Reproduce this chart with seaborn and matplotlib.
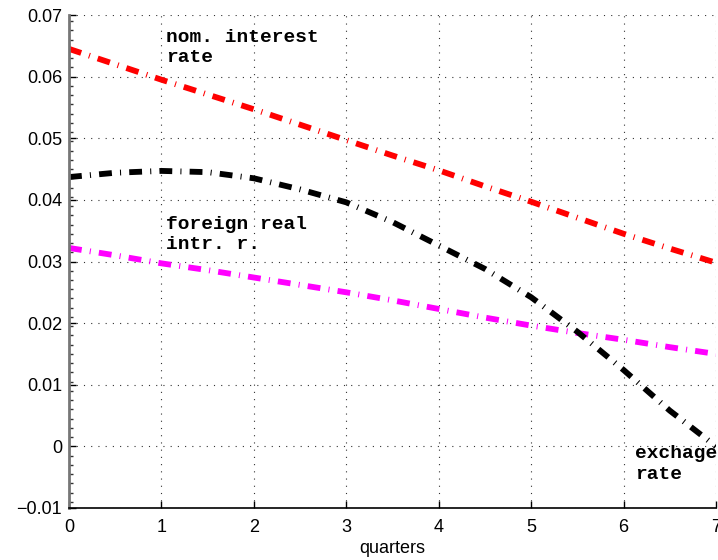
import numpy as np
import pandas as pd
import matplotlib
matplotlib.use("Agg")
import matplotlib.pyplot as plt
import seaborn as sns
from matplotlib.ticker import FixedLocator, MultipleLocator

# ---- data ----
quarters = [0, 0.5, 1, 1.5, 2, 2.5, 3, 3.5, 4, 4.5, 5, 5.5, 6, 6.5, 7]
nom_interest_rate = [0.0645, 0.0620, 0.0595, 0.0571, 0.0547, 0.0522, 0.0497, 0.0472,
                     0.0448, 0.0422, 0.0397, 0.0371, 0.0345, 0.0321, 0.0298]
foreign_real_rate = [0.0322, 0.0310, 0.0297, 0.0286, 0.0274, 0.0262, 0.0250, 0.0237,
                     0.0223, 0.0209, 0.0196, 0.0184, 0.0173, 0.0161, 0.0150]
exchange_rate = [0.0437, 0.0444, 0.0447, 0.0445, 0.0435, 0.0417, 0.0396, 0.0364,
                 0.0326, 0.0288, 0.0242, 0.0186, 0.0124, 0.0058, 0.0000]
series_names = ["nom", "foreign", "exch"]
series_colors = ["#ff0000", "#ff00ff", "#000000"]
x_ticks = [0, 1, 2, 3, 4, 5, 6, 7]
y_ticks = [-0.01, 0, 0.01, 0.02, 0.03, 0.04, 0.05, 0.06, 0.07]
y_tick_labels = ["\u22120.01", "0", "0.01", "0.02", "0.03", "0.04", "0.05", "0.06", "0.07"]

df = pd.concat([
    pd.DataFrame({"quarter": quarters, "value": nom_interest_rate, "series": "nom"}),
    pd.DataFrame({"quarter": quarters, "value": foreign_real_rate, "series": "foreign"}),
    pd.DataFrame({"quarter": quarters, "value": exchange_rate, "series": "exch"}),
], ignore_index=True)

fig = plt.figure(figsize=(7.18, 5.60), dpi=100)
ax = fig.add_axes([69 / 718, 52 / 560, 647 / 718, 493 / 560])

dash = (2.2, 1.4, 0.18, 1.4)
sns.lineplot(data=df, x="quarter", y="value", hue="series", style="series",
             hue_order=series_names, style_order=series_names,
             palette=dict(zip(series_names, series_colors)),
             dashes={n: dash for n in series_names},
             linewidth=4.2, legend=False, sort=False, ax=ax)

ax.set_xlim(0, 7)
ax.set_ylim(-0.01, 0.07)
ax.xaxis.set_major_locator(FixedLocator(x_ticks))
ax.set_xticklabels([str(t) for t in x_ticks])
ax.yaxis.set_major_locator(FixedLocator(y_ticks))
ax.set_yticklabels(y_tick_labels)

for lab in ax.get_xticklabels() + ax.get_yticklabels():
    lab.set_fontfamily("Liberation Sans")
    lab.set_fontsize(13)

ax.tick_params(axis="both", direction="in", length=5, width=1, colors="k")
ax.tick_params(axis="x", pad=8)
ax.tick_params(axis="y", pad=5)
ax.yaxis.set_minor_locator(MultipleLocator(0.0015))
ax.tick_params(axis="y", which="minor", direction="in", length=3, width=1, color="#333333")

ax.grid(True, which="major", linestyle=(0, (1, 5.5)), color="#333333", linewidth=0.8)
ax.set_axisbelow(True)

for s in ["top", "right"]:
    ax.spines[s].set_visible(False)
ax.spines["left"].set_color("#777777")
ax.spines["left"].set_linewidth(2.0)
ax.spines["bottom"].set_color("k")
ax.spines["bottom"].set_linewidth(1.2)

ax.set_xlabel("quarters", fontfamily="Liberation Sans", fontsize=13, labelpad=3)
ax.set_ylabel("")

ann = dict(fontfamily="Liberation Mono", fontweight="bold", fontsize=14,
           va="top", ha="left", linespacing=1.27, color="k", clip_on=False)
ax.text(1.05, 0.0678, "nom. interest\nrate", **ann)
ax.text(1.05, 0.0374, "foreign real\nintr. r.", **ann)
ax.text(6.12, 0.0002, "exchage\nrate", **ann)

fig.savefig("out.png", dpi=100)
